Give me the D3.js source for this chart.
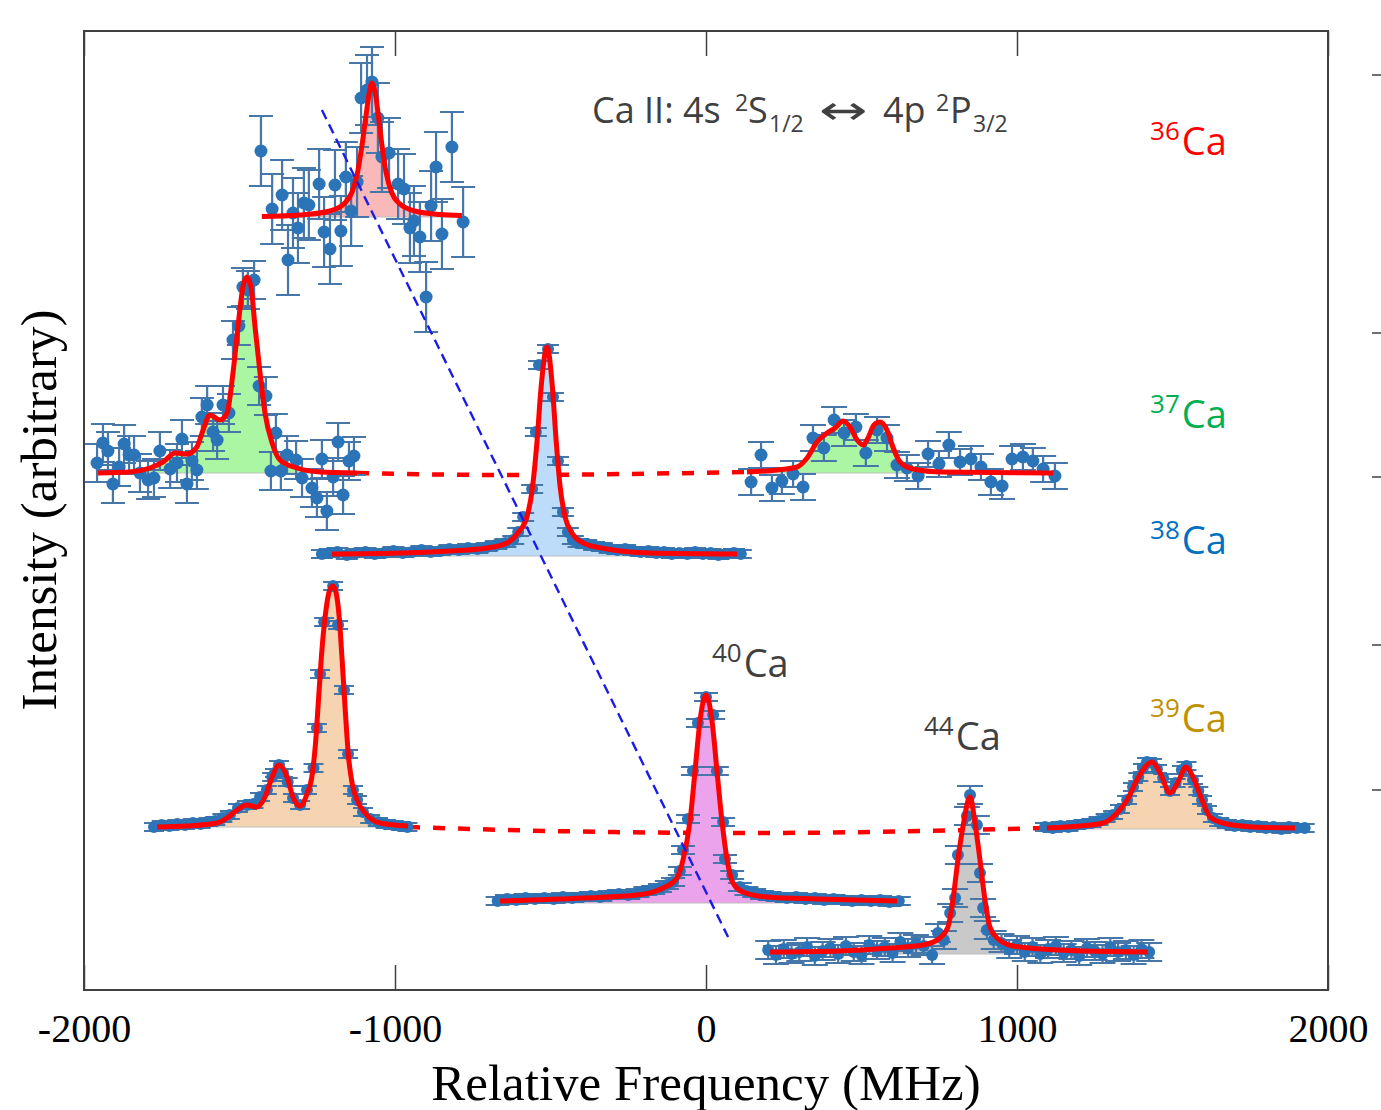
<!DOCTYPE html>
<html>
<head>
<meta charset="utf-8">
<script src="https://cdn.jsdelivr.net/npm/d3@7"></script>
<style>
  body { margin: 0; background: #fff; }
</style>
</head>
<body>
<svg id="chart" width="1381" height="1110"></svg>
<script>
// ---- data (frequency in MHz, intensity in arbitrary units) ----
const xTicks = [-2000, -1000, 0, 1000, 2000];
const rightTicks = [915, 657, 513, 345, 200];

// 36Ca
const base36 = 773;
const err36 = 35;
const fit36 = [[-1428,773.5],[-1305,775],[-1209,779],[-1161,787],[-1138,798],[-1122,815],[-1106,845],[-1093,875],[-1084,895],[-1074,907],[-1064,898],[-1055,878],[-1042,845],[-1029,818],[-1010,797],[-984,786],[-936,779],[-855,775.5],[-785,774.5]];
const pts36 = [[-1431,839],[-1395,781],[-1363,795],[-1344,730],[-1328,777],[-1312,762],[-1293,787],[-1277,785],[-1244,806],[-1228,758],[-1209,741],[-1193,805],[-1174,759],[-1158,813],[-1141,779],[-1122,808],[-1109,892],[-1090,900],[-1074,908],[-1055,872],[-1042,833],[-1019,837],[-990,806],[-971,801],[-952,762],[-939,769],[-920,753],[-900,693],[-884,784],[-868,823],[-849,756],[-817,843],[-781,768]];

// 37Ca (two scan regions)
const base37 = 517;
const err37a = 19;
const err37b = 13;
const fit37a = [[-1955,517],[-1852,518],[-1788,522],[-1746,528],[-1707,537],[-1669,536],[-1637,543],[-1617,560],[-1595,575],[-1563,570],[-1540,577],[-1521,617],[-1505,663],[-1489,703],[-1476,713],[-1463,703],[-1450,663],[-1434,617],[-1418,577],[-1395,547],[-1370,530],[-1315,522],[-1241,518],[-1122,517]];
const pts37a = [[-1958,527],[-1939,547],[-1923,539],[-1907,506],[-1887,523],[-1871,546],[-1855,535],[-1839,535],[-1820,517],[-1794,510],[-1775,512],[-1756,539],[-1723,521],[-1701,527],[-1685,551],[-1669,506],[-1653,529],[-1637,520],[-1621,573],[-1604,585],[-1585,558],[-1572,550],[-1553,585],[-1534,577],[-1521,650],[-1502,664],[-1489,703],[-1473,700],[-1453,710],[-1437,604],[-1415,594],[-1399,519],[-1383,557],[-1367,519],[-1347,535],[-1318,530],[-1299,512],[-1267,502],[-1251,492],[-1235,531],[-1219,479],[-1199,513],[-1183,548],[-1167,495],[-1148,529],[-1132,534]];
const fit37b = [[132,518],[228,520],[293,523],[325,532],[357,548],[389,557],[415,562],[441,569],[463,563],[486,550],[505,545],[521,552],[540,565],[559,568],[582,560],[601,543],[624,528],[666,521],[762,518],[1116,517]];
const pts37b = [[145,508],[177,535],[212,502],[244,509],[280,516],[312,503],[344,552],[379,542],[412,570],[444,557],[482,563],[514,537],[550,560],[582,552],[614,525],[646,522],[682,514],[714,536],[749,526],[781,545],[817,528],[852,531],[884,523],[916,508],[952,504],[984,531],[1019,533],[1051,529],[1084,521],[1122,514]];
const link37 = [[-1122,517],[-662,515],[132,518]];

// 38Ca
const base38 = 434;
const err38 = 4;
const fit38 = [[-1203,436],[-984,437],[-823,439],[-704,442],[-640,447],[-605,457],[-576,473],[-559,500],[-543,550],[-531,600],[-511,643],[-495,607],[-482,550],[-469,503],[-453,473],[-431,457],[-395,447],[-318,441],[-180,437],[100,436]];
const pts38 = [[-1235,436],[-1210,437],[-1185,438],[-1155,435],[-1125,437],[-1095,438],[-1065,436],[-1035,437],[-1005,439],[-975,437],[-945,438],[-915,440],[-885,438],[-855,439],[-825,441],[-795,440],[-765,442],[-735,441],[-705,443],[-675,445],[-645,447],[-620,450],[-604,458],[-588,473],[-559,501],[-547,558],[-537,625],[-508,641],[-492,593],[-476,529],[-460,478],[-444,458],[-428,450],[-410,447],[-385,446],[-360,444],[-335,443],[-310,441],[-285,440],[-260,441],[-235,439],[-210,438],[-185,439],[-160,437],[-135,438],[-110,436],[-85,437],[-60,436],[-35,438],[-10,436],[15,437],[40,435],[65,436],[90,437],[112,436]];

// 39Ca (two scan regions)
const base39a = 163;
const base39b = 161;
const err39 = 4;
const fit39a = [[-1765,163],[-1669,164],[-1572,167],[-1540,172],[-1508,180],[-1476,185],[-1444,183],[-1418,193],[-1395,213],[-1373,225],[-1347,213],[-1328,193],[-1305,184],[-1283,196],[-1268,212],[-1256,245],[-1245,295],[-1235,340],[-1222,380],[-1210,400],[-1200,404],[-1190,398],[-1180,375],[-1170,330],[-1160,280],[-1150,235],[-1138,207],[-1122,190],[-1096,177],[-1048,167],[-958,164]];
const pts39a = [[-1775,163],[-1750,165],[-1725,164],[-1700,166],[-1675,165],[-1650,167],[-1625,166],[-1600,168],[-1578,169],[-1555,172],[-1531,175],[-1505,182],[-1476,185],[-1455,186],[-1434,193],[-1412,200],[-1395,213],[-1386,217],[-1373,225],[-1360,217],[-1345,208],[-1328,192],[-1305,185],[-1283,200],[-1262,222],[-1251,262],[-1241,316],[-1228,368],[-1199,404],[-1183,365],[-1164,300],[-1151,236],[-1135,200],[-1122,190],[-1103,178],[-1080,171],[-1055,168],[-1030,166],[-1005,165],[-980,164],[-960,163]];
const fit39b = [[1096,162],[1203,164],[1277,167],[1322,177],[1354,190],[1386,210],[1412,223],[1434,228],[1460,217],[1492,197],[1518,208],[1543,223],[1566,213],[1595,190],[1621,173],[1662,167],[1759,163],[1894,162]];
const pts39b = [[1090,163],[1115,162],[1140,164],[1165,163],[1190,165],[1215,166],[1240,167],[1262,169],[1285,172],[1309,175],[1331,181],[1354,190],[1373,203],[1390,213],[1405,222],[1418,228],[1434,227],[1450,221],[1470,212],[1492,199],[1510,207],[1530,220],[1545,224],[1566,210],[1583,199],[1595,190],[1611,180],[1630,172],[1650,168],[1675,166],[1700,164],[1725,165],[1750,163],[1775,164],[1800,162],[1825,163],[1850,161],[1875,163],[1900,162],[1925,162]];
const link39 = [[-958,163],[-500,159],[150,157],[1096,162]];

// 40Ca
const base40 = 87;
const err40 = 4;
const fit40 = [[-662,89],[-395,92],[-222,95],[-138,102],[-93,112],[-74,130],[-51,170],[-35,220],[-19,270],[0,295],[19,270],[35,220],[51,170],[68,130],[87,107],[119,98],[196,93],[357,91],[614,89]];
const pts40 = [[-670,89],[-640,91],[-610,90],[-580,92],[-550,91],[-520,92],[-490,91],[-460,93],[-430,92],[-400,93],[-370,94],[-340,93],[-310,95],[-280,96],[-250,95],[-220,97],[-195,99],[-170,100],[-148,102],[-126,105],[-106,108],[-84,119],[-74,140],[-58,171],[-42,219],[-26,267],[0,293],[23,275],[35,219],[55,168],[61,131],[84,115],[109,103],[130,99],[155,97],[180,95],[205,94],[230,93],[260,92],[290,93],[320,91],[350,92],[380,90],[410,91],[440,90],[470,89],[500,90],[530,89],[560,90],[590,88],[620,89]];

// 44Ca
const base44 = 36;
const err44 = 9;
const fit44 = [[206,38],[431,39],[592,42],[698,45],[752,52],[778,63],[794,90],[810,130],[826,163],[849,193],[865,167],[881,130],[897,90],[913,63],[936,52],[987,44],[1129,40],[1421,38]];
const pts44 = [[200,40],[225,35],[250,41],[275,36],[300,38],[325,43],[350,34],[375,39],[400,42],[425,36],[450,44],[475,38],[500,35],[525,45],[550,40],[575,43],[600,37],[625,48],[650,42],[675,46],[700,44],[727,35],[746,57],[765,50],[785,77],[801,92],[810,135],[839,174],[849,195],[871,165],[881,117],[891,82],[903,60],[925,50],[950,47],[975,41],[1000,45],[1025,38],[1050,43],[1075,36],[1100,41],[1125,44],[1150,37],[1175,40],[1200,34],[1225,42],[1250,39],[1275,36],[1300,43],[1325,38],[1350,40],[1375,35],[1400,41],[1425,38]];

// isotope shift guide line
const shiftLine = [[-1235,880],[71,53]];

// isotope labels
const labelIso = ["36", "37", "38", "39", "40", "44"];
const labelFreq = [1428, 1428, 1428, 1428, 19, 701];
const labelInt = [835, 562, 436, 258, 313, 240];

// ---- layout ----
const svg = d3.select("#chart");
const x = d3.scaleLinear().domain([-2000, 2000]).range([84, 1328]);
const y = d3.scaleLinear().domain([0, 959]).range([990, 31]);

const labelColor = {"36": "#ff0000", "37": "#00b050", "38": "#0070c0", "39": "#bf9000", "40": "#404040", "44": "#404040"};

const spectra = [
  {fit: fit36, pts: pts36, base: base36, err: err36, fill: "#f9b9b9", cap: 12, r: 6.5},
  {fit: fit37a, pts: pts37a, base: base37, err: err37a, fill: "#aaf6a2", cap: 12, r: 6.5},
  {fit: fit37b, pts: pts37b, base: base37, err: err37b, fill: "#aaf6a2", cap: 13, r: 6.5},
  {fit: fit38, pts: pts38, base: base38, err: err38, fill: "#bddcf9", cap: 11, r: 6},
  {fit: fit39a, pts: pts39a, base: base39a, err: err39, fill: "#f7d4b1", cap: 10, r: 6},
  {fit: fit39b, pts: pts39b, base: base39b, err: err39, fill: "#f7d4b1", cap: 10, r: 6},
  {fit: fit40, pts: pts40, base: base40, err: err40, fill: "#eba3eb", cap: 12, r: 6},
  {fit: fit44, pts: pts44, base: base44, err: err44, fill: "#c9c9c9", cap: 13, r: 6}
];

const line = d3.line().x(d => x(d[0])).y(d => y(d[1])).curve(d3.curveMonotoneX);

// red dashed links between the scan regions
svg.append("g")
  .selectAll("path")
  .data([link37, link39])
  .join("path")
  .attr("d", line)
  .attr("fill", "none")
  .attr("stroke", "#ff0000")
  .attr("stroke-width", 4.5)
  .attr("stroke-dasharray", "12,13");

// filled areas under the fits
const fills = svg.append("g");
spectra.forEach(s => {
  const area = d3.area()
    .x(d => x(d[0]))
    .y0(y(s.base))
    .y1(d => y(d[1]))
    .curve(d3.curveMonotoneX);
  fills.append("path").datum(s.fit).attr("d", area).attr("fill", s.fill);
  fills.append("line")
    .attr("x1", x(s.fit[0][0])).attr("x2", x(s.fit[s.fit.length - 1][0]))
    .attr("y1", y(s.base)).attr("y2", y(s.base))
    .attr("stroke", "#bdbdbd").attr("stroke-width", 1.2);
});

// error bars
const bars = svg.append("g").attr("fill", "none").attr("stroke", "#4677a8").attr("stroke-width", 2.2);
spectra.forEach(s => {
  bars.selectAll(null)
    .data(s.pts)
    .join("path")
    .attr("d", d => {
      const cx = x(d[0]), y1 = y(d[1] + s.err), y2 = y(d[1] - s.err);
      return `M${cx - s.cap},${y1}H${cx + s.cap}M${cx},${y1}V${y2}M${cx - s.cap},${y2}H${cx + s.cap}`;
    });
});

// data points
const dots = svg.append("g").attr("fill", "#2b74b8");
spectra.forEach(s => {
  dots.selectAll(null)
    .data(s.pts)
    .join("circle")
    .attr("cx", d => x(d[0]))
    .attr("cy", d => y(d[1]))
    .attr("r", s.r);
});

// fits
svg.append("g")
  .selectAll("path")
  .data(spectra.map(s => s.fit))
  .join("path")
  .attr("d", line)
  .attr("fill", "none")
  .attr("stroke", "#ff0000")
  .attr("stroke-width", 5)
  .attr("stroke-linejoin", "round");

// isotope shift guide
svg.append("path")
  .datum(shiftLine)
  .attr("d", d3.line().x(d => x(d[0])).y(d => y(d[1])))
  .attr("fill", "none")
  .attr("stroke", "#1c1ce6")
  .attr("stroke-width", 2.4)
  .attr("stroke-dasharray", "10,6");

// frame + axes
svg.append("rect")
  .attr("x", 84).attr("y", 31).attr("width", 1244).attr("height", 959)
  .attr("fill", "none").attr("stroke", "#404040").attr("stroke-width", 2);

const gx = svg.append("g")
  .attr("transform", "translate(0,990)")
  .call(d3.axisBottom(x).tickValues(xTicks).tickSize(-25)
    .tickFormat(d => d < 0 ? "-" + Math.abs(d) : String(d)));
gx.select(".domain").remove();
gx.selectAll("line").attr("stroke", "#404040").attr("stroke-width", 1.5);
gx.attr("font-family", "'Liberation Serif', 'Times New Roman', serif").attr("font-size", 40);
gx.selectAll("text").attr("y", 52).attr("dy", null).attr("fill", "#000");

const gt = svg.append("g")
  .attr("transform", "translate(0,31)")
  .call(d3.axisTop(x).tickValues(xTicks).tickSize(-25).tickFormat(""));
gt.select(".domain").remove();
gt.selectAll("line").attr("stroke", "#404040").attr("stroke-width", 1.5);

svg.append("g")
  .selectAll("line")
  .data(rightTicks)
  .join("line")
  .attr("x1", 1372).attr("x2", 1381)
  .attr("y1", d => y(d)).attr("y2", d => y(d))
  .attr("stroke", "#404040").attr("stroke-width", 1.5);

svg.append("text")
  .attr("x", 706).attr("y", 1100)
  .attr("text-anchor", "middle")
  .attr("font-family", "'Liberation Serif', 'Times New Roman', serif")
  .attr("font-size", 51)
  .text("Relative Frequency (MHz)");

svg.append("text")
  .attr("transform", "translate(56,510) rotate(-90)")
  .attr("text-anchor", "middle")
  .attr("font-family", "'Liberation Serif', 'Times New Roman', serif")
  .attr("font-size", 51)
  .text("Intensity (arbitrary)");

// transition title
const title = svg.append("text")
  .attr("font-family", "'Open Sans', sans-serif")
  .attr("font-size", 36)
  .attr("fill", "#404040");
title.append("tspan").attr("x", 592).attr("y", 123).text("Ca II: 4s");
title.append("tspan").attr("x", 735).attr("y", 111).attr("font-size", 23).text("2");
title.append("tspan").attr("x", 748).attr("y", 123).text("S");
title.append("tspan").attr("x", 769).attr("y", 132).attr("font-size", 23).text("1/2");
title.append("tspan").attr("x", 883).attr("y", 123).text("4p");
title.append("tspan").attr("x", 936).attr("y", 111).attr("font-size", 23).text("2");
title.append("tspan").attr("x", 950).attr("y", 123).text("P");
title.append("tspan").attr("x", 973).attr("y", 132).attr("font-size", 23).text("3/2");
// the double arrow, thin and wide like the original
svg.append("text")
  .attr("transform", "translate(819,124) scale(1.45,1)")
  .attr("font-family", "'DejaVu Sans', sans-serif")
  .attr("font-size", 40)
  .attr("fill", "#404040")
  .text("\u2194");

// isotope labels
labelIso.forEach((iso, i) => {
  const t = svg.append("text")
    .attr("x", x(labelFreq[i]))
    .attr("y", y(labelInt[i]))
    .attr("font-family", "'Open Sans', sans-serif")
    .attr("fill", labelColor[iso]);
  t.append("tspan").attr("font-size", 26).attr("dy", -15).text(iso);
  t.append("tspan").attr("font-size", 38).attr("dy", 15).attr("dx", 2).text("Ca");
});
</script>
</body>
</html>
